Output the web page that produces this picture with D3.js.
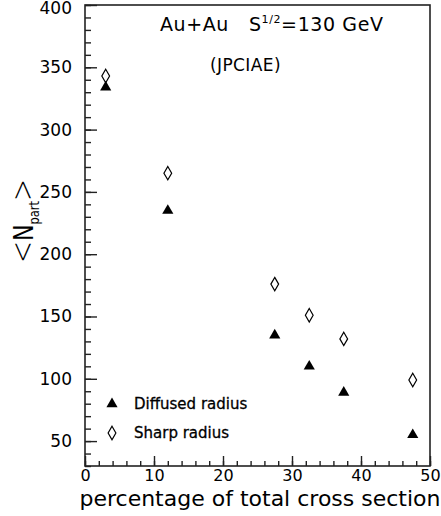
<!DOCTYPE html>
<html>
<head>
<meta charset="utf-8">
<script src="https://cdn.jsdelivr.net/npm/d3@7"></script>
<style>
  body { margin: 0; background: #fff; }
  text { font-family: "DejaVu Sans", sans-serif; fill: #000; }
</style>
</head>
<body>
<div id="chart"></div>
<script>
// centrality bins (percentage of total cross section)
var centrality = [3, 12, 27.5, 32.5, 37.5, 47.5];
// <N_part> for the two nuclear radius options
var diffusedNpart = [334, 235, 135, 110, 89, 55];
var sharpNpart = [343, 265, 176, 151, 132, 99];

var xTicks = [0, 10, 20, 30, 40, 50];
var yTicks = [50, 100, 150, 200, 250, 300, 350, 400];

var width = 441, height = 516;
var margin = {top: 5, right: 11, bottom: 50, left: 85};

var svg = d3.select("#chart").append("svg")
  .attr("width", width)
  .attr("height", height);

var x = d3.scaleLinear().domain([0, 50]).range([margin.left, width - margin.right]);
var y = d3.scaleLinear().domain([30, 400]).range([height - margin.bottom, margin.top]);

// minor ticks first, then the major ones with labels
svg.append("g")
  .attr("transform", "translate(0," + y(30) + ")")
  .call(d3.axisBottom(x).tickValues(d3.range(0, 51, 2)).tickSize(-5).tickFormat(""))
  .call(g => g.select(".domain").remove());
svg.append("g")
  .attr("transform", "translate(" + x(0) + ",0)")
  .call(d3.axisLeft(y).tickValues(d3.range(30, 401, 10)).tickSize(-6).tickFormat(""))
  .call(g => g.select(".domain").remove());

var xAxis = svg.append("g")
  .attr("transform", "translate(0," + y(30) + ")")
  .call(d3.axisBottom(x).tickValues(xTicks).tickSize(-10).tickPadding(4));
xAxis.select(".domain").remove();
xAxis.selectAll("text").attr("font-size", 16).attr("dy", "0.71em");

var yAxis = svg.append("g")
  .attr("transform", "translate(" + x(0) + ",0)")
  .call(d3.axisLeft(y).tickValues(yTicks).tickSize(-12).tickPadding(13));
yAxis.select(".domain").remove();
yAxis.selectAll("text").attr("font-size", 17)
  .attr("dy", d => d === 400 ? "0.5em" : "0.32em");

svg.selectAll(".tick line").attr("stroke", "#222").attr("stroke-width", 1.4);

// frame
svg.append("rect")
  .attr("x", x(0)).attr("y", y(400))
  .attr("width", x(50) - x(0)).attr("height", y(30) - y(400))
  .attr("fill", "none").attr("stroke", "#222").attr("stroke-width", 1.6);

// axis titles
svg.append("text")
  .attr("x", 260).attr("y", 506)
  .attr("text-anchor", "middle")
  .attr("font-size", 22)
  .text("percentage of total cross section");

var yl = svg.append("text")
  .attr("transform", "translate(33,221) rotate(-90)")
  .attr("text-anchor", "middle")
  .attr("textLength", 84)
  .attr("lengthAdjust", "spacingAndGlyphs");
yl.append("tspan").attr("font-size", 32).attr("font-weight", 200).text("<");
yl.append("tspan").attr("font-size", 27).text("N");
yl.append("tspan").attr("font-size", 14).attr("dy", 6).text("part");
yl.append("tspan").attr("font-size", 32).attr("font-weight", 200).attr("dy", -6).text(">");

// annotations
var t1 = svg.append("text").attr("x", 160).attr("y", 31)
  .attr("font-size", 19).attr("letter-spacing", 0.6)
  .style("white-space", "pre");
t1.append("tspan").text("Au+Au   S");
t1.append("tspan").attr("font-size", 11).attr("dy", -8).text("1/2");
t1.append("tspan").attr("dy", 8).text("=130 GeV");

svg.append("text").attr("x", 210).attr("y", 71)
  .attr("font-size", 17).attr("letter-spacing", 0.4)
  .text("(JPCIAE)");

var tri = d3.symbol().type(d3.symbolTriangle).size(54);
var dia = d3.symbol().type(d3.symbolDiamond).size(52);

svg.append("g").selectAll("path")
  .data(centrality.map((c, i) => [c, diffusedNpart[i]]))
  .join("path")
  .attr("d", tri)
  .attr("transform", d => "translate(" + x(d[0]) + "," + y(d[1]) + ")")
  .attr("fill", "#000");

svg.append("g").selectAll("path")
  .data(centrality.map((c, i) => [c, sharpNpart[i]]))
  .join("path")
  .attr("d", dia)
  .attr("transform", d => "translate(" + x(d[0]) + "," + y(d[1]) + ")")
  .attr("fill", "none").attr("stroke", "#000").attr("stroke-width", 1.2);

// legend
var legend = [
  {label: "Diffused radius", sym: tri, filled: true},
  {label: "Sharp radius", sym: dia, filled: false}
];
var lg = svg.append("g").selectAll("g")
  .data(legend).join("g")
  .attr("transform", (d, i) => "translate(112," + (404 + i * 29) + ")");
lg.append("path")
  .attr("d", d => d.sym())
  .attr("fill", d => d.filled ? "#000" : "none")
  .attr("stroke", d => d.filled ? "none" : "#000")
  .attr("stroke-width", 1.2);
lg.append("text")
  .attr("x", 22).attr("y", 5)
  .attr("font-size", 15)
  .attr("stroke", "#000").attr("stroke-width", 0.3)
  .text(d => d.label);
</script>
</body>
</html>
